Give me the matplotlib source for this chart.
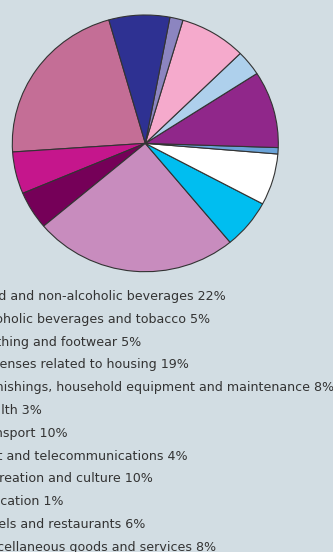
import matplotlib
matplotlib.use('Agg')
import matplotlib.pyplot as plt

# household consumption shares (pie, counter-clockwise from the top-left)
shares = [21.7, 5.3, 4.8, 24.9, 6.2, 6.5, 0.8, 9.7, 3.2, 8.1, 1.6, 7.4]
colors = ['#C46E96', '#C5168C', '#750058', '#C88CBE', '#00BEF0', '#FFFFFF',
          '#6AA3D8', '#90278A', '#AED0EC', '#F5AACC', '#8C85C0', '#2E3192']

labels = [
    'Food and non-alcoholic beverages 22%',
    'Alcoholic beverages and tobacco 5%',
    'Clothing and footwear 5%',
    'Expenses related to housing 19%',
    'Furnishings, household equipment and maintenance 8%',
    'Health 3%',
    'Transport 10%',
    'Post and telecommunications 4%',
    'Recreation and culture 10%',
    'Education 1%',
    'Hotels and restaurants 6%',
    'Miscellaneous goods and services 8%',
]

W, H = 333, 552
bg = '#D2DDE3'

fig = plt.figure(figsize=(W / 100, H / 100), dpi=100, facecolor=bg)

# pie box in pixels: left, top, right, bottom
left, top, right, bottom = 12.3, 15.0, 278.3, 271.7
ax = fig.add_axes([left / W, 1 - bottom / H, (right - left) / W, (bottom - top) / H])
ax.pie(shares, colors=colors, startangle=105.9, counterclock=True,
       wedgeprops=dict(edgecolor='#333333', linewidth=0.8))
ax.set_aspect('auto')
ax.set_xlim(-1, 1)
ax.set_ylim(-1, 1)
ax.axis('off')

# legend text (runs off the left edge)
x0 = -24
y0 = 300
step = 22.8
for i, lab in enumerate(labels):
    fig.text(x0 / W, 1 - (y0 + i * step) / H, lab, fontsize=9.1,
             family='DejaVu Sans', color='#333333', va='baseline', ha='left')

fig.savefig('out.png', dpi=100, facecolor=bg)
